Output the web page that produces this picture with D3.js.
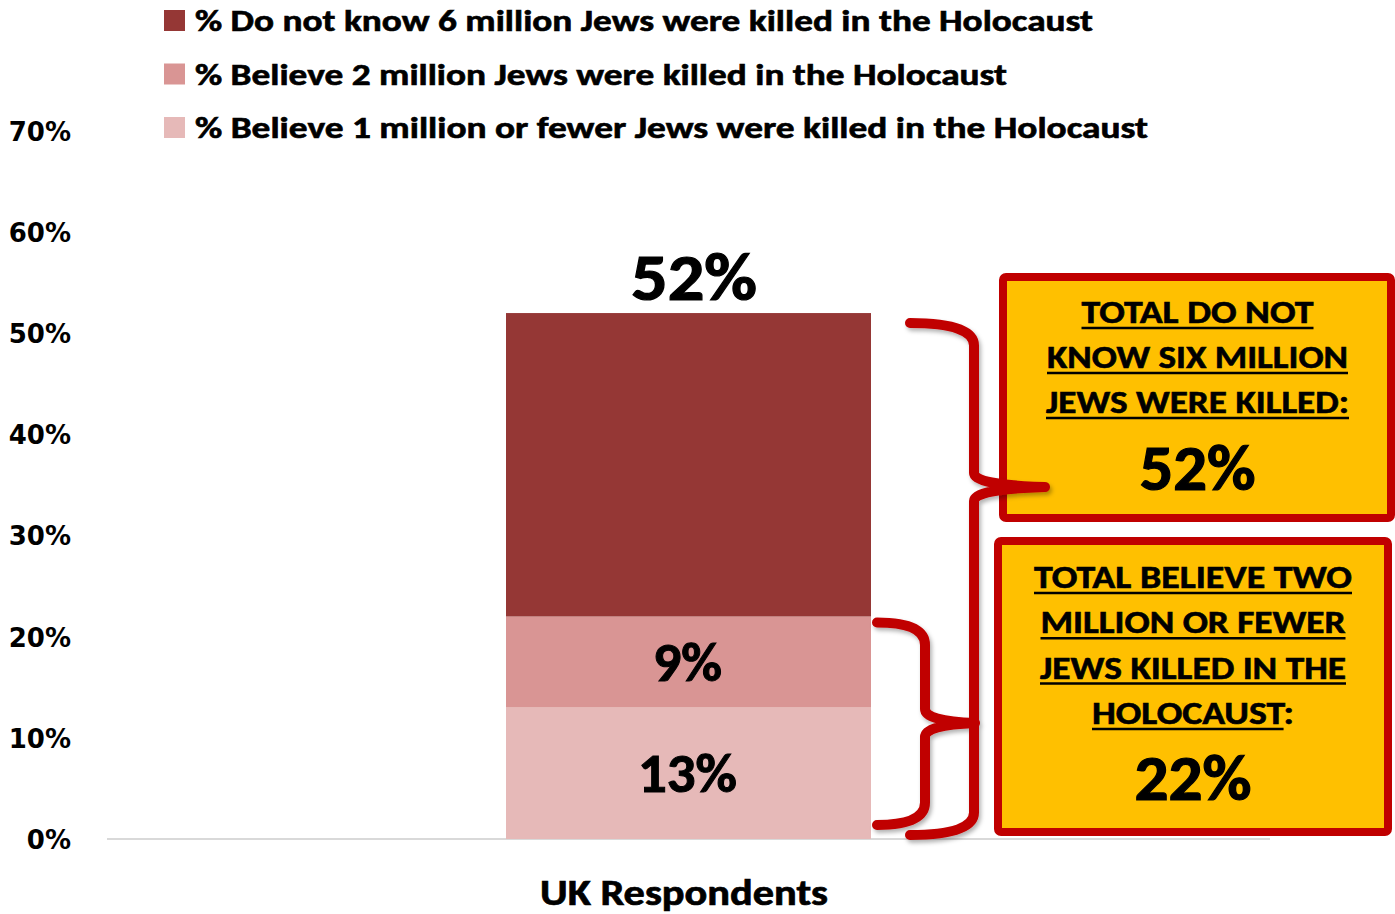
<!DOCTYPE html>
<html><head><meta charset="utf-8">
<script src="https://cdn.jsdelivr.net/npm/d3@7"></script>
<style>html,body{margin:0;padding:0;background:#fff;}svg{display:block;}</style>
</head><body>
<svg id="c" width="1395" height="914"></svg>
<script>
// ---- data ----
const categories = ["UK Respondents"];
const seriesNames = [
  "% Believe 1 million or fewer Jews were killed in the Holocaust",
  "% Believe 2 million Jews were killed in the Holocaust",
  "% Do not know 6 million Jews were killed in the Holocaust"
];
const seriesValues = [13, 9, 30];           // stacked bottom -> top
const segmentLabels = ["13%", "9%", ""];
const totalLabel = "52%";
const seriesColors = ["#E6B9B8", "#D99594", "#953735"];
const yTicks = [0, 10, 20, 30, 40, 50, 60, 70];
const legendOrder = [2, 1, 0];
const box1Lines = ["TOTAL DO NOT", "KNOW SIX MILLION", "JEWS WERE KILLED:"];
const box1Value = "52%";
const box2Lines = ["TOTAL BELIEVE TWO", "MILLION OR FEWER", "JEWS KILLED IN THE", "HOLOCAUST:"];
const box2Value = "22%";
const box2Total = 22, box1Total = 52;

const FONT = "Carlito, Lato, 'Open Sans', sans-serif";
const svg = d3.select("#c");

const defs = svg.append("defs");
const f = defs.append("filter").attr("id","sh").attr("x","-20%").attr("y","-20%").attr("width","140%").attr("height","140%");
f.append("feDropShadow").attr("dx",2).attr("dy",3).attr("stdDeviation",2).attr("flood-color","#000").attr("flood-opacity",0.3);

const y = d3.scaleLinear().domain([0, 70]).range([839, 131]);
const x = d3.scaleBand().domain(categories).range([107, 1270]).paddingInner(0.5).paddingOuter(0.5466);

// y axis labels
const yAxis = d3.axisLeft(y).tickValues(yTicks).tickFormat(d => d + "%").tickSize(0).tickPadding(0);
const ga = svg.append("g").attr("transform", "translate(71,0)").call(yAxis);
ga.select(".domain").remove();
ga.selectAll("text").attr("font-family","'DejaVu Sans', sans-serif").attr("font-weight","bold")
  .attr("font-size", 26).attr("fill","#000").attr("dy","0.36em");

// baseline
svg.append("line").attr("x1",107).attr("x2",1270).attr("y1",y(0)).attr("y2",y(0))
  .attr("stroke","#d9d9d9").attr("stroke-width",2);

// stacked bar
let acc = 0;
const stacks = seriesValues.map((v,i)=>{const s={i, y0:acc, y1:acc+v}; acc+=v; return s;});
const bx = x("UK Respondents"), bw = x.bandwidth();
svg.selectAll("rect.bar").data(stacks).enter().append("rect").attr("class","bar")
  .attr("x", bx).attr("width", bw)
  .attr("y", d=>y(d.y1)).attr("height", d=>y(d.y0)-y(d.y1))
  .attr("fill", d=>seriesColors[d.i]);

function bold(sel, sw){ return sel.attr("font-family",FONT).attr("font-weight","bold")
  .attr("stroke","#000").attr("stroke-width",sw).attr("paint-order","stroke").attr("fill","#000"); }

// segment labels
const segW = {"13%": 99, "9%": 69};
bold(svg.selectAll("text.seg").data(stacks.filter(d=>segmentLabels[d.i])).enter().append("text").attr("class","seg")
  .attr("x", bx + bw/2 - 1).attr("y", d => (y(d.y0)+y(d.y1))/2 + 19)
  .attr("text-anchor","middle").attr("font-size",54)
  .attr("textLength", d=>segW[segmentLabels[d.i]]).attr("lengthAdjust","spacingAndGlyphs")
  .text(d=>segmentLabels[d.i]), 1);
bold(svg.append("text").attr("x", bx + bw/2 + 5.5).attr("y", y(acc) - 13)
  .attr("text-anchor","middle").attr("font-size",66)
  .attr("textLength",126).attr("lengthAdjust","spacingAndGlyphs")
  .text(totalLabel), 1.2);

// x label
bold(svg.append("text").attr("x", bx + bw/2 - 4.5).attr("y", 905).attr("text-anchor","middle")
  .attr("font-size",37)
  .attr("textLength",288).attr("lengthAdjust","spacingAndGlyphs").text(categories[0]), 0.7);

// legend
const legendW = [898, 812, 953];
legendOrder.forEach((si, k) => {
  const top = 10 + k*53.5;
  svg.append("rect").attr("x",164).attr("y",top).attr("width",21).attr("height",21).attr("fill",seriesColors[si]);
  bold(svg.append("text").attr("x",195).attr("y",top+21)
    .attr("font-size",30).attr("textLength",legendW[k]).attr("lengthAdjust","spacingAndGlyphs")
    .text(seriesNames[si]), 0.6);
});

const red = "#C00000";

// boxes
function box(x0, y0, x1, y1, lines, lineBase, lineGap, widths, cx, value, valBase, valW, plainSuffixLast){
  const g = svg.append("g");
  g.append("rect").attr("x",x0).attr("y",y0).attr("width",x1-x0).attr("height",y1-y0).attr("rx",3)
    .attr("fill","#FFC000").attr("stroke",red).attr("stroke-width",8);
  lines.forEach((ln, i) => {
    const by = lineBase + i*lineGap;
    let main = ln, suffix = "";
    if (plainSuffixLast && i === lines.length-1 && ln.endsWith(":")) { main = ln.slice(0,-1); suffix = ":"; }
    const t = bold(g.append("text").attr("x",cx).attr("y",by).attr("text-anchor","middle")
      .attr("font-size",33)
      .attr("textLength",widths[i]).attr("lengthAdjust","spacingAndGlyphs").text(ln), 0.6);
    let uw = widths[i];
    if (suffix) { uw = widths[i] * t.node().getSubStringLength(0, main.length) / t.node().getComputedTextLength(); }
    const ux0 = cx - widths[i]/2;
    g.append("line").attr("x1",ux0).attr("x2",ux0+uw).attr("y1",by+5).attr("y2",by+5)
      .attr("stroke","#000").attr("stroke-width",2.5);
  });
  bold(g.append("text").attr("x",cx).attr("y",valBase).attr("text-anchor","middle")
    .attr("font-size",64)
    .attr("textLength",valW).attr("lengthAdjust","spacingAndGlyphs").text(value), 1.2);
}
box(1003, 277, 1391, 518, box1Lines, 323, 45, [232, 301, 303], 1197.5, box1Value, 490, 116, false);
box(998, 541, 1388, 832, box2Lines, 588, 45.3, [318, 305, 306, 202], 1193, box2Value, 800, 117, true);

// braces (drawn on top)
function brace(xs, top, bot, xv, tipY, tipX){
  const r = 14;
  const p = d3.path();
  p.moveTo(xs, top);
  p.quadraticCurveTo(xv, top, xv, top + r*1.6);
  p.lineTo(xv, tipY - r);
  p.quadraticCurveTo(xv, tipY - 2, tipX, tipY);
  p.moveTo(tipX, tipY);
  p.quadraticCurveTo(xv, tipY + 2, xv, tipY + r);
  p.lineTo(xv, bot - r*1.6);
  p.quadraticCurveTo(xv, bot, xs, bot);
  return p.toString();
}
const gb = svg.append("g").attr("filter","url(#sh)");
gb.append("path").attr("d", brace(877, y(box2Total)+6, y(0)-14, 925, 723, 975))
  .attr("fill","none").attr("stroke",red).attr("stroke-width",10).attr("stroke-linecap","round");
gb.append("path").attr("d", brace(910, y(box1Total)+10, y(0)-4, 974, 487, 1045))
  .attr("fill","none").attr("stroke",red).attr("stroke-width",10).attr("stroke-linecap","round");
</script>
</body></html>
